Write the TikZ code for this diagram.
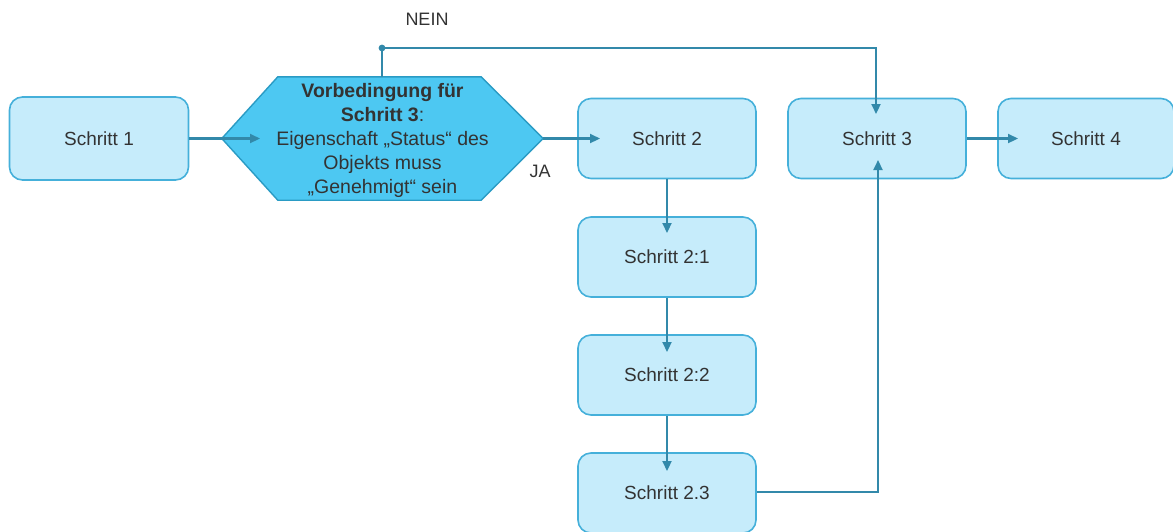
\documentclass[tikz,border=0pt]{standalone}
\usepackage{fontspec}
\setmainfont{Liberation Sans}
\usetikzlibrary{arrows.meta,calc}
\definecolor{boxfill}{HTML}{C6ECFB}
\definecolor{boxline}{HTML}{45B0DA}
\definecolor{hexfill}{HTML}{4DC8F2}
\definecolor{hexline}{HTML}{2A9BC4}
\definecolor{conn}{HTML}{3289AA}
\definecolor{txt}{HTML}{333333}
\begin{document}
\begin{tikzpicture}[x=1pt,y=-1pt,
  stepbox/.style={draw=boxline,fill=boxfill,line width=1.6pt,rounded corners=13pt,
    minimum width=178pt,minimum height=80pt,inner sep=0pt,text=txt,
    font=\fontsize{19}{24}\selectfont},
  link/.style={draw=conn,line width=2.2pt,-{Triangle[width=9pt,length=10pt]}},
  plain/.style={draw=conn,line width=2.2pt},
  lbl/.style={text=txt,font=\fontsize{18}{22}\selectfont,inner sep=0pt}]
\useasboundingbox (0,0) rectangle (1173,531);
% nodes
\node[stepbox,minimum width=179pt,minimum height=83pt] (s1) at (99,138.5) {Schritt 1};
\node[stepbox] (s2) at (667,138.5) {Schritt 2};
\node[stepbox] (s21) at (667,257) {Schritt 2:1};
\node[stepbox] (s22) at (667,375) {Schritt 2:2};
\node[stepbox] (s23) at (667,493) {Schritt 2.3};
\node[stepbox] (s3) at (877,138.5) {Schritt 3};
\node[stepbox,minimum width=176pt] (s4) at (1086,138.5) {Schritt 4};
% hexagon condition
\node[minimum width=321pt,minimum height=123pt,inner sep=0pt] (cond) at (382.5,138.5) {};
\filldraw[fill=hexfill,draw=hexline,line width=1.4pt]
  (cond.west) -- ($(cond.north west)+(56,0)$) -- ($(cond.north east)+(-62,0)$)
  -- (cond.east) -- ($(cond.south east)+(-62,0)$) -- ($(cond.south west)+(56,0)$) -- cycle;
\node[align=center,text=txt,font=\fontsize{19.5}{24}\selectfont,inner sep=0pt] (condtext) at (382.5,140)
  {\textbf{Vorbedingung für}\\\textbf{Schritt 3}:\\Eigenschaft „Status“ des\\Objekts muss\\„Genehmigt“ sein};
% coordinates for connector ends
\coordinate (t1) at (260,138.5);
\coordinate (t2) at (600,138.5);
\coordinate (t21) at (667,233);
\coordinate (t22) at (667,352);
\coordinate (t23) at (667,471);
\coordinate (t4) at (1018,138.5);
\coordinate (nein) at (382,48);
\coordinate (neinE) at (876,48);
\coordinate (t3top) at (876,114);
\coordinate (c23) at (878,492);
\coordinate (t3bot) at (878,160);
% connectors
\draw[link] (s1.east) -- (t1);
\draw[link] (cond.east) -- (t2);
\draw[link] (s2.south) -- (t21);
\draw[link] (s21.south) -- (t22);
\draw[link] (s22.south) -- (t23);
\draw[link] (s3.east) -- (t4);
\draw[plain] (cond.north -| nein) -- (nein);
\draw[link] (nein) -- (neinE) -- (t3top);
\fill[conn] (nein) circle (3.4pt);
\draw[link] (s23.east |- c23) -- (c23) -- (t3bot);
% labels
\node[lbl] (neinlbl) at (427,19) {NEIN};
\node[lbl] (jalbl) at (540,171) {JA};
\end{tikzpicture}
\end{document}
